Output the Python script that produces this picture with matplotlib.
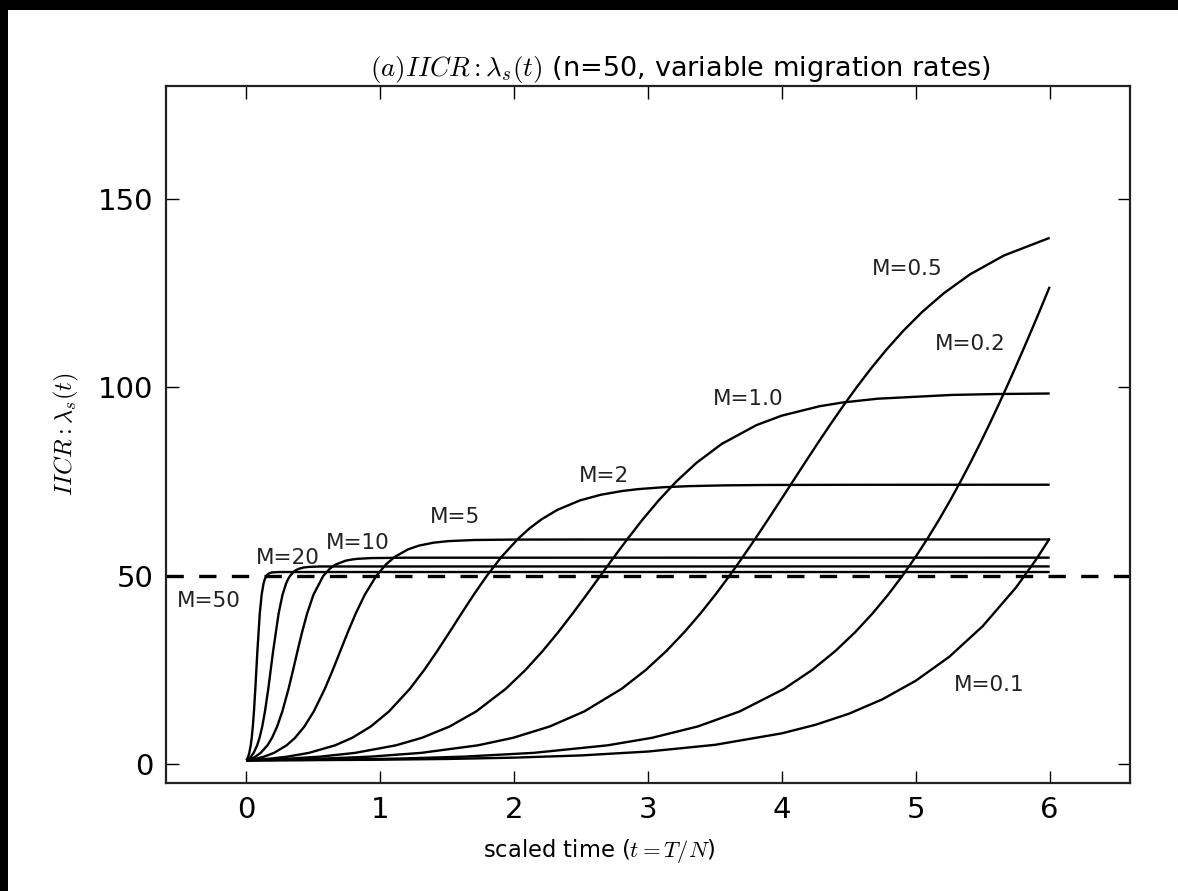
import matplotlib
matplotlib.use("Agg")
import matplotlib.pyplot as plt
from matplotlib.patches import Rectangle

plt.rcParams['mathtext.fontset'] = 'cm'
plt.rcParams['font.family'] = ['DejaVu Sans']

# ---- data (scaled time t, IICR value) ----
t_M50 = [0, 0.0081, 0.0139, 0.0222, 0.0329, 0.0402, 0.0484, 0.0569, 0.0672, 0.0825, 0.1004,
         0.1143, 0.1288, 0.137, 0.1505, 0.1573, 0.173, 0.192, 0.25, 6.0]
l_M50 = [1, 1.5, 2, 3, 5, 7, 10, 14, 20, 30, 40, 45, 48, 49, 50, 50.3, 50.7, 50.9, 51.0, 51.0]

t_M20 = [0, 0.0202, 0.0345, 0.0548, 0.0809, 0.0988, 0.1188, 0.1392, 0.1639, 0.2001, 0.2411,
         0.2705, 0.2975, 0.3102, 0.327, 0.3519, 0.3714, 0.3959, 0.429, 0.4628, 0.55, 6.0]
l_M20 = [1, 1.5, 2, 3, 5, 7, 10, 14, 20, 30, 40, 45, 48, 49, 50, 51, 51.5, 51.9, 52.2, 52.35,
         52.47, 52.49]

t_M10 = [0, 0.04, 0.068, 0.1074, 0.1578, 0.1921, 0.2302, 0.2689, 0.3153, 0.3492, 0.382, 0.4161,
         0.4541, 0.5016, 0.575, 0.6269, 0.6683, 0.7412, 0.7859, 0.8281, 0.935, 1.2, 6.0]
l_M10 = [1, 1.5, 2, 3, 5, 7, 10, 14, 20, 25, 30, 35, 40, 45, 50, 52, 53, 54.0, 54.3, 54.5, 54.7,
         54.8, 54.81]

t_M5 = [0, 0.0787, 0.1325, 0.2071, 0.3009, 0.3641, 0.4338, 0.5038, 0.5864, 0.6457, 0.7016,
        0.7576, 0.8171, 0.885, 0.9713, 1.0425, 1.1078, 1.2069, 1.2886, 1.4006, 1.5088, 1.7004,
        2.0, 2.5, 6.0]
l_M5 = [1, 1.5, 2, 3, 5, 7, 10, 14, 20, 25, 30, 35, 40, 45, 50, 53, 55, 57, 58, 58.8, 59.2, 59.5,
        59.61, 59.63, 59.64]

t_M2 = [0, 0.1873, 0.3077, 0.4681, 0.663, 0.791, 0.9294, 1.0657, 1.2213, 1.3285, 1.4253, 1.5169,
        1.6069, 1.6988, 1.7964, 1.9051, 2.0344, 2.1124, 2.2054, 2.3236, 2.4915, 2.6464, 2.8065,
        2.9266, 3.1132, 3.3104, 3.5714, 3.866, 4.5, 6.0]
l_M2 = [1, 1.5, 2, 3, 5, 7, 10, 14, 20, 25, 30, 35, 40, 45, 50, 55, 60, 62.5, 65, 67.5, 70, 71.5,
        72.5, 73.0, 73.5, 73.8, 74.0, 74.1, 74.15, 74.17]

t_M1 = [0, 0.25, 0.5527, 0.813, 1.1172, 1.3118, 1.5182, 1.7169, 1.9376, 2.0846, 2.2126, 2.3288,
        2.4375, 2.5418, 2.6441, 2.7466, 2.8515, 2.9614, 3.0795, 3.2107, 3.3627, 3.5507, 3.8107,
        3.9986, 4.2813, 4.4546, 4.7149, 5.2675, 5.6, 6.0]
l_M1 = [1, 1.32, 2, 3, 5, 7, 10, 14, 20, 25, 30, 35, 40, 45, 50, 55, 60, 65, 70, 75, 80, 85, 90,
        92.5, 95, 96, 97, 98, 98.24, 98.38]

t_M05 = [0, 0.25, 0.5, 0.9286, 1.3068, 1.7295, 1.9925, 2.266, 2.524, 2.803, 2.9834, 3.1362, 3.2704,
         3.3917, 3.5035, 3.6084, 3.7082, 3.8041, 3.8976, 3.9894, 4.0807, 4.172, 4.2644, 4.3587,
         4.4561, 4.5576, 4.665, 4.7803, 4.9063, 5.047, 5.2094, 5.405, 5.6577, 6.0]
l_M05 = [1, 1.15, 1.37, 2, 3, 5, 7, 10, 14, 20, 25, 30, 35, 40, 45, 50, 55, 60, 65, 70, 75, 80, 85,
         90, 95, 100, 105, 110, 115, 120, 125, 130, 135, 139.7]

t_M02 = [0, 0.5, 1.0, 1.1575, 1.6261, 2.1459, 2.6977, 3.0309, 3.3708, 3.685, 4.0167, 4.2257, 4.3984,
         4.5465, 4.6769, 4.7939, 4.9003, 4.9985, 5.0899, 5.1757, 5.2568, 5.3339, 5.4077, 5.4786,
         5.547, 5.6133, 5.6777, 5.7406, 5.8021, 5.8625, 5.922, 6.0]
l_M02 = [1, 1.14, 1.39, 1.5, 2, 3, 5, 7, 10, 14, 20, 25, 30, 35, 40, 45, 50, 55, 60, 65, 70, 75, 80,
         85, 90, 95, 100, 105, 110, 115, 120, 126.7]

t_M01 = [0, 0.5, 1.0, 1.5, 2.0, 2.5, 3.0, 3.5, 4.0, 4.25, 4.5, 4.75, 5.0, 5.25, 5.5, 5.75, 5.9, 6.0]
l_M01 = [1, 1.07, 1.18, 1.38, 1.73, 2.32, 3.35, 5.13, 8.18, 10.44, 13.38, 17.2, 22.14, 28.49, 36.63,
         46.95, 54.38, 59.9]

n_islands = 50
labels = ["M=50", "M=20", "M=10", "M=5", "M=2", "M=1.0", "M=0.5", "M=0.2", "M=0.1"]
series_t = [t_M50, t_M20, t_M10, t_M5, t_M2, t_M1, t_M05, t_M02, t_M01]
series_l = [l_M50, l_M20, l_M10, l_M5, l_M2, l_M1, l_M05, l_M02, l_M01]

# label anchor positions (data coords, text centre)
label_x = [-0.28, 0.31, 0.83, 1.56, 2.67, 3.75, 4.94, 5.41, 5.55]
label_y = [43.4, 54.8, 58.7, 65.6, 76.5, 96.8, 131.5, 111.6, 20.9]

xticks = [0, 1, 2, 3, 4, 5, 6]
yticks = [0, 50, 100, 150]

# ---- figure ----
fig = plt.figure(figsize=(11.78, 8.91), dpi=100)
fig.patch.set_facecolor('white')
ax = fig.add_axes([166/1178, 1-783/891, (1130-166)/1178, (783-86)/891])

for ts, ls in zip(series_t, series_l):
    ax.plot(ts, ls, color='black', lw=1.7, solid_capstyle='butt', solid_joinstyle='round')

ax.axhline(n_islands, color='black', lw=2.4, linestyle=(0, (5.2, 4.6)))

for lab, x, y in zip(labels, label_x, label_y):
    ax.text(x, y, lab, ha='center', va='center', fontsize=15.5, color='#222222')

ax.set_xlim(-0.6, 6.6)
ax.set_ylim(-5, 180)
ax.set_xticks(xticks)
ax.set_yticks(yticks)
ax.tick_params(direction='in', length=9, width=1, top=True, right=True,
               labelsize=21, pad=9, colors='black')
for s in ax.spines.values():
    s.set_linewidth(1.6)
    s.set_color('#222222')

ax.set_title(r"$(a)IICR:\lambda_s(t)$ (n=50, variable migration rates)",
             fontsize=19.5, pad=7, x=0.534)
ax.set_xlabel(r"scaled time ($t=T/N$)", fontsize=16.3, labelpad=10, x=0.449)
ax.set_ylabel(r"$IICR:\lambda_s(t)$", fontsize=17.5, labelpad=12)

# black border strips at top and left edges as in the reference image
fig.patches.append(Rectangle((0, 1-10/891), 1, 10/891, transform=fig.transFigure,
                             facecolor='black', edgecolor='none', zorder=10))
fig.patches.append(Rectangle((0, 0), 8/1178, 1, transform=fig.transFigure,
                             facecolor='black', edgecolor='none', zorder=10))

fig.savefig('out.png', dpi=100, facecolor='white')
